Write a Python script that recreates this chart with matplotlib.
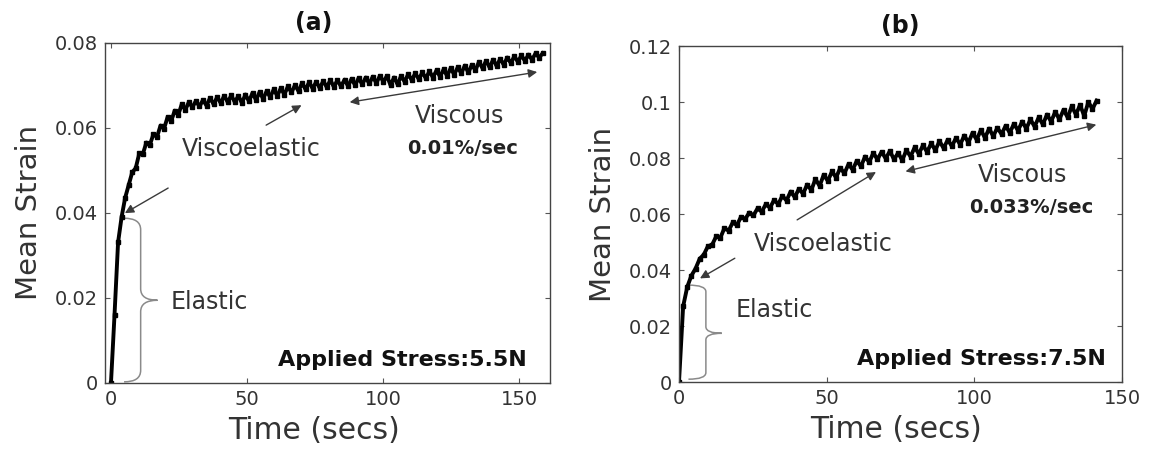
import numpy as np
import matplotlib
matplotlib.use('Agg')
import matplotlib.pyplot as plt
from matplotlib.path import Path
from matplotlib.patches import PathPatch

# ---------------- data ----------------
dt_a = 1.3  # sampling interval (s), panel (a)
strain_a = [
    0.0000, 0.0160, 0.0330, 0.0390, 0.0435, 0.0465, 0.0495, 0.0505, 0.0540, 0.0538,
    0.0565, 0.0560, 0.0585, 0.0578, 0.0605, 0.0598, 0.0625, 0.0615, 0.0640, 0.0630,
    0.0655, 0.0642, 0.0660, 0.0648, 0.0663, 0.0650, 0.0665, 0.0652, 0.0670, 0.0655,
    0.0672, 0.0658, 0.0675, 0.0660, 0.0676, 0.0660, 0.0675, 0.0658, 0.0678, 0.0662,
    0.0682, 0.0665, 0.0684, 0.0668, 0.0686, 0.0672, 0.0690, 0.0675, 0.0693, 0.0678,
    0.0697, 0.0683, 0.0700, 0.0686, 0.0705, 0.0690, 0.0707, 0.0692, 0.0708, 0.0693,
    0.0710, 0.0695, 0.0712, 0.0696, 0.0712, 0.0697, 0.0713, 0.0698, 0.0715, 0.0700,
    0.0717, 0.0702, 0.0718, 0.0704, 0.0720, 0.0705, 0.0722, 0.0708, 0.0722, 0.0700,
    0.0718, 0.0702, 0.0722, 0.0708, 0.0726, 0.0712, 0.0728, 0.0714, 0.0730, 0.0716,
    0.0733, 0.0718, 0.0735, 0.0720, 0.0737, 0.0722, 0.0740, 0.0725, 0.0742, 0.0728,
    0.0746, 0.0730, 0.0748, 0.0735, 0.0755, 0.0740, 0.0757, 0.0742, 0.0760, 0.0745,
    0.0762, 0.0748, 0.0765, 0.0752, 0.0768, 0.0755, 0.0770, 0.0757, 0.0772, 0.0760,
    0.0775, 0.0765, 0.0775,
]

dt_b = 1.4  # sampling interval (s), panel (b)
strain_b = [
    0.0000, 0.0270, 0.0340, 0.0380, 0.0405, 0.0440, 0.0455, 0.0485, 0.0490, 0.0520,
    0.0515, 0.0550, 0.0540, 0.0570, 0.0560, 0.0590, 0.0582, 0.0605, 0.0595, 0.0620,
    0.0608, 0.0635, 0.0622, 0.0650, 0.0635, 0.0665, 0.0648, 0.0680, 0.0660, 0.0690,
    0.0672, 0.0705, 0.0685, 0.0725, 0.0700, 0.0740, 0.0718, 0.0752, 0.0730, 0.0765,
    0.0745, 0.0778, 0.0758, 0.0790, 0.0770, 0.0805, 0.0785, 0.0818, 0.0795, 0.0822,
    0.0798, 0.0825, 0.0795, 0.0818, 0.0792, 0.0828, 0.0805, 0.0838, 0.0815, 0.0845,
    0.0822, 0.0852, 0.0828, 0.0860, 0.0835, 0.0865, 0.0842, 0.0872, 0.0848, 0.0880,
    0.0855, 0.0890, 0.0865, 0.0900, 0.0872, 0.0905, 0.0878, 0.0908, 0.0885, 0.0915,
    0.0890, 0.0922, 0.0898, 0.0930, 0.0905, 0.0938, 0.0912, 0.0945, 0.0920, 0.0955,
    0.0930, 0.0965, 0.0938, 0.0972, 0.0945, 0.0985, 0.0955, 0.0990, 0.0950, 0.1000,
    0.0975, 0.1005,
]

xticks_a = [0, 50, 100, 150]
yticks_a = [0, 0.02, 0.04, 0.06, 0.08]
ylabels_a = ['0', '0.02', '0.04', '0.06', '0.08']
xticks_b = [0, 50, 100, 150]
yticks_b = [0, 0.02, 0.04, 0.06, 0.08, 0.1, 0.12]
ylabels_b = ['0', '0.02', '0.04', '0.06', '0.08', '0.1', '0.12']

titles = ['(a)', '(b)']
stress_labels = ['Applied Stress:5.5N', 'Applied Stress:7.5N']
rate_labels = ['0.01%/sec', '0.033%/sec']

t_a = np.arange(len(strain_a)) * dt_a
t_b = np.arange(len(strain_b)) * dt_b

# ---------------- style ----------------
plt.rcParams['font.family'] = ['DejaVu Sans']
TXT = '#333333'
ANN = '#3a3a3a'
BRACE = '#8a8a8a'

fig = plt.figure(figsize=(11.5, 4.54), dpi=100)
ax_a = fig.add_axes([105 / 1150, 1 - 382.7 / 454, 445 / 1150, 340 / 454])
ax_b = fig.add_axes([679 / 1150, 1 - 382 / 454, 443 / 1150, 336 / 454])


def style_axes(ax, xlim, ylim, xt, yt, ylbl, title, title_x, xlabel_x):
    ax.set_xlim(*xlim)
    ax.set_ylim(*ylim)
    ax.set_xticks(xt)
    ax.set_xticklabels([str(v) for v in xt])
    ax.set_yticks(yt)
    ax.set_yticklabels(ylbl)
    ax.tick_params(direction='in', length=3.5, width=0.8, top=True, right=True,
                   labelsize=14, colors='#555555', labelcolor=TXT, pad=5)
    for s in ax.spines.values():
        s.set_color('#444444')
        s.set_linewidth(1.0)
    ax.set_xlabel('Time (secs)', fontsize=21.5, color=TXT, labelpad=5)
    ax.xaxis.label.set_x(xlabel_x)
    ax.set_ylabel('Mean Strain', fontsize=21, color=TXT)
    ax.yaxis.set_label_coords(-0.14, 0.5)
    ax.set_title(title, fontsize=17, fontweight='bold', color='#111111', pad=9, x=title_x)


def brace(ax, x_end, x_bar, x_tip, y_top, y_bot, y_mid):
    r = (y_top - y_bot) * 0.07
    verts = [(x_end, y_top), (x_bar, y_top), (x_bar, y_top - r),
             (x_bar, y_mid + r),
             (x_bar, y_mid), (x_tip, y_mid),
             (x_bar, y_mid), (x_bar, y_mid - r),
             (x_bar, y_bot + r),
             (x_bar, y_bot), (x_end, y_bot)]
    codes = [Path.MOVETO, Path.CURVE3, Path.CURVE3,
             Path.LINETO,
             Path.CURVE3, Path.CURVE3,
             Path.CURVE3, Path.CURVE3,
             Path.LINETO,
             Path.CURVE3, Path.CURVE3]
    ax.add_patch(PathPatch(Path(verts, codes), fill=False, edgecolor=BRACE, lw=1.1))


def arrow(ax, head, tail, style='-|>'):
    ax.annotate('', xy=head, xytext=tail,
                arrowprops=dict(arrowstyle=style, color=ANN, lw=1.0,
                                mutation_scale=13, shrinkA=0, shrinkB=0))


# ---------------- panel (a) ----------------
ax = ax_a
ax.plot(t_a, strain_a, color='black', lw=2.8, marker='s', ms=3)
style_axes(ax, (-2.2, 161.3), (0, 0.08), xticks_a, yticks_a, ylabels_a, titles[0], 0.47, 0.47)
ax.text(51.6, 0.055, 'Viscoelastic', fontsize=17, color=TXT, ha='center', va='center')
arrow(ax, (70, 0.0653), (57, 0.0606))
arrow(ax, (5.1, 0.0399), (21, 0.0458))
ax.text(128, 0.0627, 'Viscous', fontsize=17, color=TXT, ha='center', va='center')
ax.text(129, 0.0552, rate_labels[0], fontsize=14, fontweight='bold', color='#222222',
        ha='center', va='center')
arrow(ax, (156.6, 0.0731), (87.7, 0.0660), style='<|-|>')
brace(ax, 4.8, 10.9, 17.1, 0.0387, 0.0002, 0.0194)
ax.text(36, 0.019, 'Elastic', fontsize=17, color=TXT, ha='center', va='center')
ax.text(152.9, 0.0053, stress_labels[0], fontsize=16, fontweight='bold',
        color='#111111', ha='right', va='center')

# ---------------- panel (b) ----------------
ax = ax_b
ax.plot(t_b, strain_b, color='black', lw=2.8, marker='s', ms=3)
style_axes(ax, (0, 150), (0, 0.12), xticks_b, yticks_b, ylabels_b, titles[1], 0.5, 0.49)
ax.text(48.7, 0.0493, 'Viscoelastic', fontsize=17, color=TXT, ha='center', va='center')
arrow(ax, (66.7, 0.0750), (40, 0.0579))
arrow(ax, (7.1, 0.0370), (18.9, 0.0442))
ax.text(116.4, 0.0738, 'Viscous', fontsize=17, color=TXT, ha='center', va='center')
ax.text(119.2, 0.0624, rate_labels[1], fontsize=14, fontweight='bold', color='#222222',
        ha='center', va='center')
arrow(ax, (141.3, 0.0919), (76.7, 0.0752), style='<|-|>')
brace(ax, 3.2, 9.1, 14.5, 0.0346, 0.0010, 0.0174)
ax.text(32.2, 0.0257, 'Elastic', fontsize=17, color=TXT, ha='center', va='center')
ax.text(144.4, 0.0081, stress_labels[1], fontsize=16, fontweight='bold',
        color='#111111', ha='right', va='center')

fig.savefig('out.png', dpi=100, facecolor='white')
